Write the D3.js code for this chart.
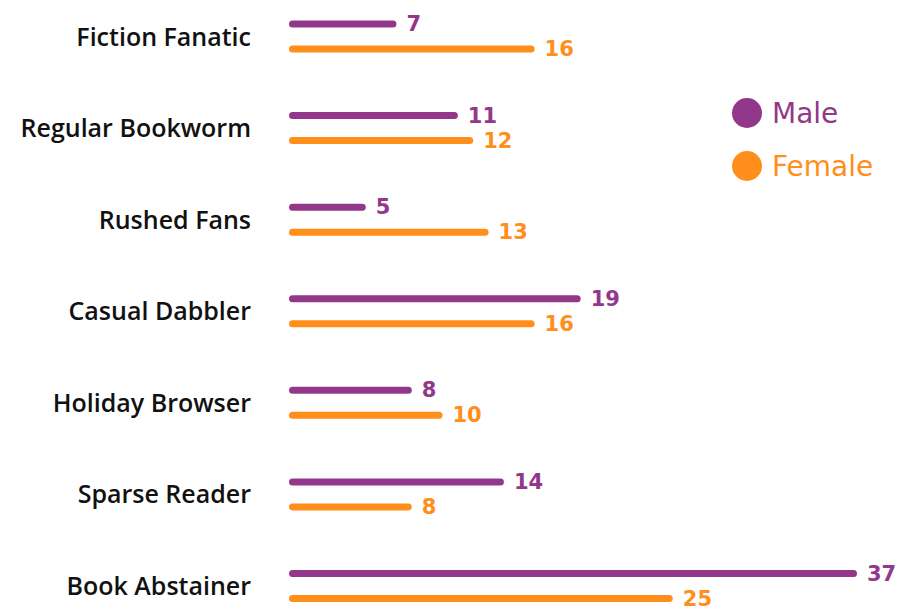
<!DOCTYPE html>
<html>
<head>
<meta charset="utf-8">
<script src="https://cdn.jsdelivr.net/npm/d3@7"></script>
<style>
  html, body { margin: 0; padding: 0; background: #ffffff; }
  svg { display: block; }
</style>
</head>
<body>
<div id="chart"></div>
<script>
// Reader segments and counts by gender
const categories = ["Fiction Fanatic", "Regular Bookworm", "Rushed Fans", "Casual Dabbler",
                    "Holiday Browser", "Sparse Reader", "Book Abstainer"];
const maleValues   = [7, 11, 5, 19, 8, 14, 37];
const femaleValues = [16, 12, 13, 16, 10, 8, 25];
const seriesNames  = ["Male", "Female"];

const colors = { Male: "#93378A", Female: "#FF8E1A" };

const width = 900, height = 610;
const svg = d3.select("#chart").append("svg")
  .attr("width", width).attr("height", height);

const x = d3.scaleLinear().domain([0, 37]).range([289, 857]);
const y = d3.scalePoint().domain(categories).range([36.5, 586]);
const offset = { Male: -12.5, Female: 12.5 };
const stroke = 7;

const rows = categories.map((c, i) => ({ cat: c, Male: maleValues[i], Female: femaleValues[i] }));

// Category labels
svg.append("g").selectAll("text").data(categories).join("text")
  .attr("x", 251)
  .attr("y", d => y(d) - 1)
  .attr("text-anchor", "end")
  .attr("dominant-baseline", "central")
  .style("font-family", "'Open Sans', sans-serif")
  .style("font-weight", 600)
  .style("font-size", "25px")
  .style("fill", "#111")
  .text(d => d);

// Bars as rounded lines, with value labels
seriesNames.forEach(s => {
  const g = svg.append("g");
  g.selectAll("line").data(rows).join("line")
    .attr("x1", x(0) + stroke / 2)
    .attr("x2", d => x(d[s]) - stroke / 2)
    .attr("y1", d => y(d.cat) + offset[s])
    .attr("y2", d => y(d.cat) + offset[s])
    .attr("stroke", colors[s])
    .attr("stroke-width", stroke)
    .attr("stroke-linecap", "round");
  g.selectAll("text").data(rows).join("text")
    .attr("x", d => x(d[s]) + 10)
    .attr("y", d => y(d.cat) + offset[s])
    .attr("dominant-baseline", "central")
    .style("font-family", "'DejaVu Sans', sans-serif")
    .style("font-weight", 700)
    .style("font-size", "21px")
    .style("fill", colors[s])
    .text(d => d[s]);
});

// Legend
const legend = svg.append("g").selectAll("g").data(seriesNames).join("g")
  .attr("transform", (d, i) => `translate(747, ${113 + i * 53})`);
legend.append("circle").attr("r", 15).attr("fill", d => colors[d]);
legend.append("text")
  .attr("x", 25)
  .attr("dominant-baseline", "central")
  .style("font-family", "'DejaVu Sans', sans-serif")
  .style("font-size", "28px")
  .style("fill", d => colors[d])
  .text(d => d);
</script>
</body>
</html>
